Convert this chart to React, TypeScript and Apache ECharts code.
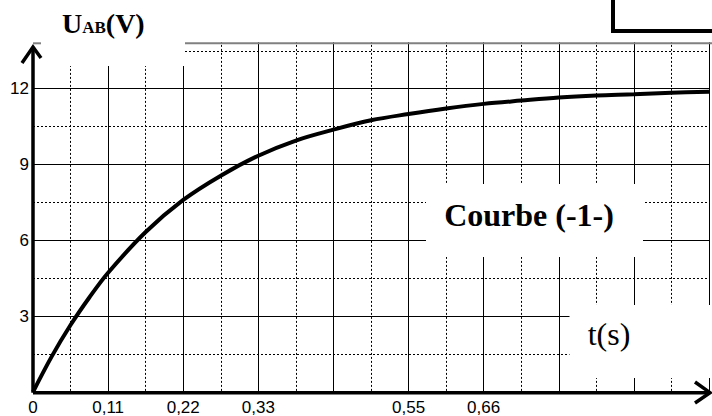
import React, { useEffect, useRef } from 'react';
import * as echarts from 'echarts';

// Data
const tValues = [0, 0.0275, 0.055, 0.0825, 0.11, 0.165, 0.22, 0.275, 0.33, 0.385, 0.44, 0.495, 0.55, 0.605, 0.66, 0.715, 0.77, 0.825, 0.88, 0.935, 0.99];
const uValues = [0, 1.41, 2.65, 3.74, 4.72, 6.33, 7.6, 8.56, 9.35, 9.95, 10.38, 10.75, 11.0, 11.22, 11.4, 11.53, 11.65, 11.73, 11.78, 11.84, 11.88];
const xTickLabels = ['0', '0,11', '0,22', '0,33', '', '0,55', '0,66', '', '', ''];
const yTickLabels = ['', '3', '6', '9', '12', ''];
const titleMain = 'U';
const titleSub = 'AB';
const titleUnit = '(V)';
const curveName = 'Courbe (-1-)';
const xAxisName = 't(s)';

const X_STEP = 0.11;
const Y_STEP = 3;

export default function App() {
  const ref = useRef<HTMLDivElement>(null);
  useEffect(() => {
    document.body.style.margin = '0';
    const chart = echarts.init(ref.current!, null, { renderer: 'svg' });
    const left = 33;
    const bottomY = 392.7;
    const pxPerV = 25.32;
    const top = bottomY - 15 * pxPerV;
    const data = tValues.map((t, i) => [t, uValues[i]]);
    chart.setOption({
      animation: false,
      grid: { left, top, width: 684, height: 15 * pxPerV, containLabel: false },
      xAxis: {
        type: 'value',
        min: 0,
        max: 0.99,
        interval: X_STEP,
        axisLine: { show: false },
        axisTick: { show: false },
        splitLine: { show: true, lineStyle: { color: '#000', width: 1 } },
        minorTick: { show: false, splitNumber: 2 },
        minorSplitLine: { show: true, lineStyle: { color: '#000', width: 1, type: [2, 2] } },
        axisLabel: {
          margin: 7,
          fontSize: 17,
          fontFamily: 'Liberation Sans',
          color: '#000',
          formatter: (v: number) => xTickLabels[Math.round(v / X_STEP)] ?? '',
        },
      },
      yAxis: {
        type: 'value',
        min: 0,
        max: 15,
        interval: Y_STEP,
        axisLine: { show: false },
        axisTick: { show: false },
        splitLine: { show: true, lineStyle: { color: '#000', width: 1 } },
        minorTick: { show: false, splitNumber: 2 },
        minorSplitLine: { show: true, lineStyle: { color: '#000', width: 1, type: [2, 2] } },
        axisLabel: {
          margin: 4,
          fontSize: 17,
          fontFamily: 'Liberation Sans',
          color: '#000',
          formatter: (v: number) => yTickLabels[Math.round(v / Y_STEP)] ?? '',
        },
      },
      series: [
        {
          type: 'line',
          data,
          smooth: 0.35,
          showSymbol: false,
          lineStyle: { color: '#000', width: 4 },
          z: 5,
        },
      ],
      graphic: [
        { type: 'rect', z: 50, shape: { x: 0, y: 0, width: 712, height: 42.3 }, style: { fill: '#fff' } },
        { type: 'rect', z: 50, shape: { x: 0, y: 0, width: 184, height: 66 }, style: { fill: '#fff' } },
        { type: 'line', z: 51, shape: { x1: 185, y1: 43.3, x2: 712, y2: 43.3 }, style: { stroke: '#808080', lineWidth: 2 } },
        { type: 'line', z: 51, shape: { x1: 33, y1: 43.3, x2: 41, y2: 43.3 }, style: { stroke: '#808080', lineWidth: 2 } },
        { type: 'rect', z: 52, shape: { x: 613, y: -10, width: 130, height: 41 }, style: { fill: '#fff', stroke: '#000', lineWidth: 4 } },
        { type: 'rect', z: 50, shape: { x: 426, y: 184, width: 217, height: 73 }, style: { fill: '#fff' } },
        { type: 'rect', z: 50, shape: { x: 569.5, y: 305, width: 150, height: 73 }, style: { fill: '#fff' } },
        { type: 'line', z: 60, shape: { x1: left, y1: bottomY, x2: left, y2: 48 }, style: { stroke: '#000', lineWidth: 3.5 } },
        { type: 'line', z: 60, shape: { x1: left, y1: bottomY, x2: 709, y2: bottomY }, style: { stroke: '#000', lineWidth: 3.5 } },
        { type: 'polyline', z: 60, shape: { points: [[22, 63], [33, 47], [41, 58]] }, style: { stroke: '#000', fill: 'none', lineWidth: 3.5 } },
        { type: 'polyline', z: 60, shape: { points: [[695, 382], [710, bottomY], [695, 403]] }, style: { stroke: '#000', fill: 'none', lineWidth: 3.5 } },
        {
          type: 'text',
          z: 70,
          style: {
            x: 62,
            y: 23.5,
            verticalAlign: 'middle',
            text: `{u|${titleMain}}{s|${titleSub}}{u|${titleUnit}}`,
            rich: {
              u: { fontSize: 28, fontWeight: 'bold', fontFamily: 'Liberation Serif', fill: '#000', verticalAlign: 'bottom' },
              s: { fontSize: 17, fontWeight: 'bold', fontFamily: 'Liberation Serif', fill: '#000', verticalAlign: 'bottom', padding: [0, 0, 2, 0] },
            },
          },
        },
        {
          type: 'text',
          z: 70,
          style: {
            x: 529,
            y: 215,
            text: curveName,
            align: 'center',
            verticalAlign: 'middle',
            fontSize: 32,
            fontWeight: 'bold',
            fontFamily: 'Liberation Serif',
            fill: '#000',
          },
        },
        {
          type: 'text',
          z: 70,
          style: {
            x: 609,
            y: 334,
            text: xAxisName,
            align: 'center',
            verticalAlign: 'middle',
            fontSize: 32,
            fontFamily: 'Liberation Serif',
            fill: '#000',
          },
        },
      ],
    });
    return () => chart.dispose();
  }, []);
  return <div ref={ref} style={{ width: 712, height: 416 }} />;
}
